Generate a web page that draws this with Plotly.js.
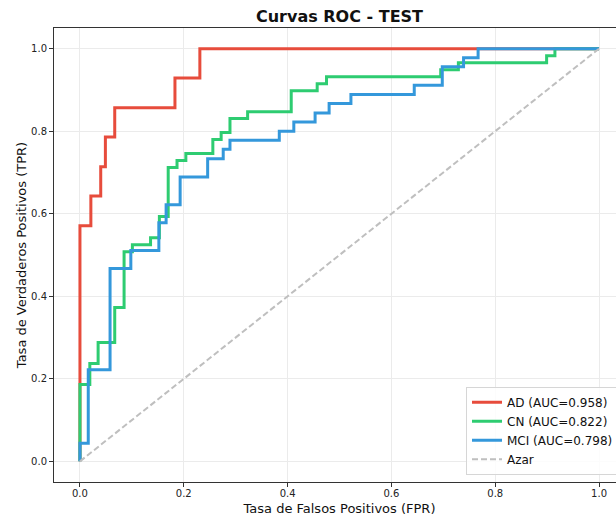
<!DOCTYPE html>
<html>
<head>
<meta charset="utf-8">
<script src="https://cdn.plot.ly/plotly-3.0.1.min.js"></script>
<style>
html, body { margin: 0; padding: 0; overflow: hidden; background: #fff; }
#wrap { width: 616px; height: 516px; overflow: hidden; position: relative; }
#chart { width: 634px; height: 516px; }
</style>
</head>
<body>
<div id="wrap"><div id="chart"></div></div>
<script>
// ROC curve data (FPR, TPR)
const adFpr = [0, 0, 0.021, 0.021, 0.040, 0.040, 0.049, 0.049, 0.067, 0.067, 0.183, 0.183, 0.231, 0.231, 1];
const adTpr = [0, 0.571, 0.571, 0.643, 0.643, 0.714, 0.714, 0.786, 0.786, 0.857, 0.857, 0.929, 0.929, 1.0, 1.0];

const cnFpr = [0, 0, 0.019, 0.019, 0.035, 0.035, 0.067, 0.067, 0.085, 0.085, 0.101, 0.101, 0.136, 0.136,
  0.153, 0.153, 0.170, 0.170, 0.187, 0.187, 0.204, 0.204, 0.256, 0.256, 0.272, 0.272, 0.289, 0.289,
  0.323, 0.323, 0.407, 0.407, 0.457, 0.457, 0.475, 0.475, 0.695, 0.695, 0.729, 0.729, 0.899, 0.899,
  0.915, 0.915, 1];
const cnTpr = [0, 0.186, 0.186, 0.237, 0.237, 0.288, 0.288, 0.373, 0.373, 0.508, 0.508, 0.525, 0.525,
  0.542, 0.542, 0.593, 0.593, 0.712, 0.712, 0.729, 0.729, 0.746, 0.746, 0.780, 0.780, 0.797, 0.797,
  0.831, 0.831, 0.847, 0.847, 0.898, 0.898, 0.915, 0.915, 0.932, 0.932, 0.949, 0.949, 0.966, 0.966,
  0.983, 0.983, 1.0, 1.0];

const mciFpr = [0, 0, 0.016, 0.016, 0.058, 0.058, 0.098, 0.098, 0.152, 0.152, 0.166, 0.166, 0.193, 0.193,
  0.246, 0.246, 0.276, 0.276, 0.289, 0.289, 0.384, 0.384, 0.412, 0.412, 0.453, 0.453, 0.480, 0.480,
  0.522, 0.522, 0.644, 0.644, 0.698, 0.698, 0.739, 0.739, 0.767, 0.767, 1];
const mciTpr = [0, 0.044, 0.044, 0.222, 0.222, 0.467, 0.467, 0.511, 0.511, 0.578, 0.578, 0.622, 0.622,
  0.689, 0.689, 0.733, 0.733, 0.756, 0.756, 0.778, 0.778, 0.800, 0.800, 0.822, 0.822, 0.844, 0.844,
  0.867, 0.867, 0.889, 0.889, 0.911, 0.911, 0.956, 0.956, 0.978, 0.978, 1.0, 1.0];

const chanceX = [0, 1];
const chanceY = [0, 1];

const seriesNames = ['AD (AUC=0.958)', 'CN (AUC=0.822)', 'MCI (AUC=0.798)', 'Azar'];
const tickVals = [0, 0.2, 0.4, 0.6, 0.8, 1.0];
const tickText = ['0.0', '0.2', '0.4', '0.6', '0.8', '1.0'];

const FONT = 'DejaVu Sans, sans-serif';

const traces = [
  {x: adFpr, y: adTpr, name: seriesNames[0], mode: 'lines', line: {color: '#e74c3c', width: 3}},
  {x: cnFpr, y: cnTpr, name: seriesNames[1], mode: 'lines', line: {color: '#2ecc71', width: 3}},
  {x: mciFpr, y: mciTpr, name: seriesNames[2], mode: 'lines', line: {color: '#3498db', width: 3}},
  {x: chanceX, y: chanceY, name: seriesNames[3], mode: 'lines', line: {color: '#bfbfbf', width: 2, dash: '6px,3px'}}
];

const axisCommon = {
  range: [-0.05, 1.05],
  tickvals: tickVals,
  ticktext: tickText,
  ticks: 'outside',
  ticklen: 4,
  tickwidth: 1,
  tickcolor: '#333',
  showline: true,
  linecolor: '#333',
  linewidth: 1,
  mirror: true,
  showgrid: true,
  gridcolor: '#ebebeb',
  gridwidth: 1,
  zeroline: false,
  automargin: false,
  tickfont: {family: FONT, size: 10, color: '#222'}
};

const layout = {
  width: 634,
  height: 516,
  margin: {l: 54, r: 9, t: 28, b: 34},
  paper_bgcolor: '#fff',
  plot_bgcolor: '#fff',
  font: {family: FONT, color: '#111'},
  title: {
    text: '<b>Curvas ROC - TEST</b>',
    font: {family: FONT, size: 16, color: '#111'},
    x: 0.5, xref: 'paper', xanchor: 'center',
    y: 1 - 16 / 516, yref: 'container', yanchor: 'middle'
  },
  xaxis: Object.assign({}, axisCommon, {
    ticklabelstandoff: -2,
    title: {text: 'Tasa de Falsos Positivos (FPR)', font: {family: FONT, size: 13, color: '#111'}, standoff: 8}
  }),
  yaxis: Object.assign({}, axisCommon, {
    title: {text: 'Tasa de Verdaderos Positivos (TPR)', font: {family: FONT, size: 13, color: '#111'}, standoff: 1}
  }),
  showlegend: true,
  legend: {
    x: (466 - 54) / 571, xanchor: 'left',
    y: 0.016, yanchor: 'bottom',
    bgcolor: 'rgba(255,255,255,0.85)',
    bordercolor: '#d6d6d6',
    borderwidth: 1,
    font: {family: FONT, size: 12, color: '#111'},
    tracegroupgap: 0,
    itemwidth: 30
  }
};

Plotly.newPlot('chart', traces, layout, {displayModeBar: false, staticPlot: true});
</script>
</body>
</html>
